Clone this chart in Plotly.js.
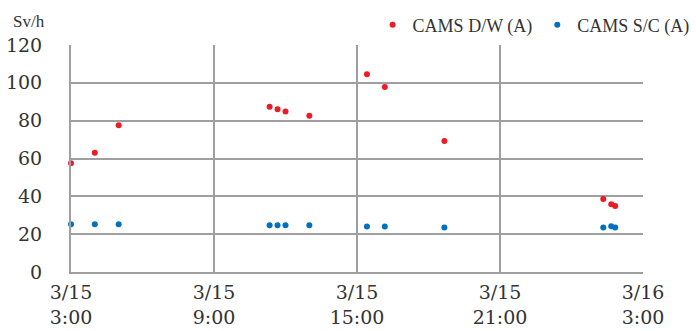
<!DOCTYPE html>
<html>
<head>
<meta charset="utf-8">
<script src="https://cdn.plot.ly/plotly-3.0.1.min.js"></script>
<style>html,body{margin:0;padding:0;background:#fff;}#chart{width:696px;height:331px;}</style>
</head>
<body>
<div id="chart"></div>
<script>
const times = ["2011-03-15 03:00","2011-03-15 04:00","2011-03-15 05:00","2011-03-15 11:20","2011-03-15 11:40","2011-03-15 12:00","2011-03-15 13:00","2011-03-15 15:25","2011-03-15 16:10","2011-03-15 18:40","2011-03-16 01:20","2011-03-16 01:40","2011-03-16 01:50"];
const dwValues = [57.5, 63.0, 77.6, 87.4, 86.1, 84.9, 82.6, 104.5, 97.8, 69.2, 38.6, 35.8, 34.9];
const scValues = [25.2, 25.2, 25.2, 24.7, 24.7, 24.7, 24.7, 24.0, 24.0, 23.5, 23.5, 24.2, 23.5];
const seriesNames = ["CAMS D/W (A)", "CAMS S/C (A)"];
const tickVals = ["2011-03-15 03:00","2011-03-15 09:00","2011-03-15 15:00","2011-03-15 21:00","2011-03-16 03:00"];
const tickText = ["3/15<br>3:00","3/15<br>9:00","3/15<br>15:00","3/15<br>21:00","3/16<br>3:00"];
const yTicks = [0, 20, 40, 60, 80, 100, 120];
const unitLabel = "Sv/h";

const tickFont = "DejaVu Serif, Liberation Serif, serif";
const textFont = "Liberation Serif, DejaVu Serif, serif";
const gridCol = "#9f9fa1";

const traces = [
  {x: times, y: dwValues, name: seriesNames[0], type: "scatter", mode: "markers",
   marker: {color: "rgb(237,28,36)", size: 6}, cliponaxis: false},
  {x: times, y: scValues, name: seriesNames[1], type: "scatter", mode: "markers",
   marker: {color: "rgb(0,112,192)", size: 6}, cliponaxis: false}
];

const layout = {
  width: 696, height: 331,
  margin: {l: 71, r: 53, t: 45, b: 59},
  paper_bgcolor: "#fff", plot_bgcolor: "#fff",
  font: {family: textFont, color: "#333", size: 19},
  showlegend: true,
  legend: {orientation: "h", xref: "container", yref: "container", x: 0.998, xanchor: "right", y: 1 - 25/331, yanchor: "middle",
           font: {size: 18, family: textFont, color: "#333"}, bgcolor: "rgba(0,0,0,0)", itemwidth: 30},
  xaxis: {type: "date", range: [tickVals[0], tickVals[tickVals.length-1]],
          tickvals: tickVals, ticktext: tickText, showgrid: true, gridcolor: gridCol, gridwidth: 2,
          showline: true, linecolor: gridCol, linewidth: 2, ticks: "", zeroline: false,
          tickfont: {size: 19, family: tickFont, color: "#333"}, ticklabelstandoff: 2, fixedrange: true},
  yaxis: {range: [0, 120], tickvals: yTicks, showgrid: true, gridcolor: gridCol, gridwidth: 2,
          showline: true, linecolor: gridCol, linewidth: 2, ticks: "", zeroline: false,
          tickfont: {size: 19, family: tickFont, color: "#333"}, ticklabelstandoff: 23, fixedrange: true},
  annotations: [{text: unitLabel, xref: "paper", yref: "paper", x: -0.105, y: 1.105, xanchor: "left", yanchor: "middle",
                 showarrow: false, font: {size: 17, family: textFont, color: "#333"}}]
};

Plotly.newPlot("chart", traces, layout, {displayModeBar: false, staticPlot: true});
</script>
</body>
</html>
